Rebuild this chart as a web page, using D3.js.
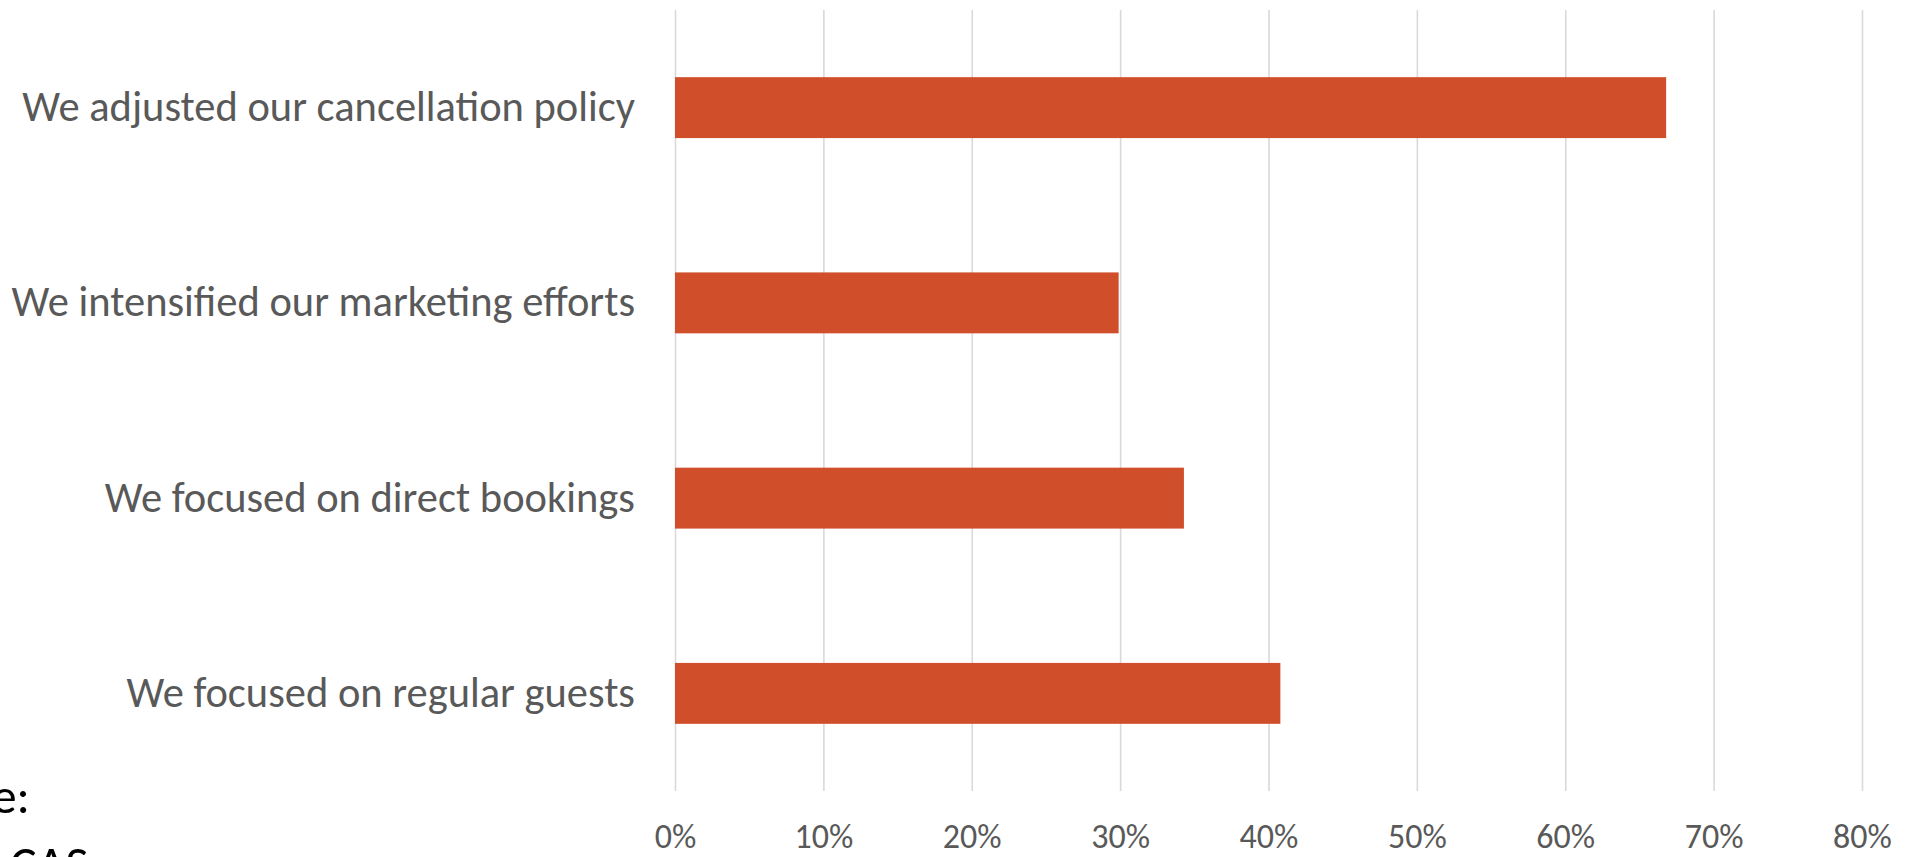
<!DOCTYPE html>
<html>
<head>
<meta charset="utf-8">
<script src="https://cdn.jsdelivr.net/npm/d3@7"></script>
<style>
  html, body { margin: 0; padding: 0; background: #fff; overflow: hidden; }
  svg { display: block; }
  .lbl { font-family: Carlito, Calibri, Lato, "Open Sans", sans-serif; fill: #595959; }
</style>
</head>
<body>
<div id="chart"></div>
<script>
(function () {
  'use strict';

  var categories = [
    'We adjusted our cancellation policy',
    'We intensified our marketing efforts',
    'We focused on direct bookings',
    'We focused on regular guests'
  ];
  var values = [0.668, 0.299, 0.343, 0.408];
  var tickValues = [0, 0.1, 0.2, 0.3, 0.4, 0.5, 0.6, 0.7, 0.8];
  var sourceLines = ['Source:', 'CAS'];

  var W = 1907, H = 857;
  var plot = { left: 675, right: 1862, top: 10, bottom: 791 };

  var svg = d3.select('#chart').append('svg')
    .attr('width', W).attr('height', H);

  var x = d3.scaleLinear().domain([0, 0.8]).range([plot.left, plot.right]);
  var y = d3.scaleBand().domain(categories)
    .range([plot.top, plot.bottom])
    .paddingInner(0.688).paddingOuter(0.344);

  /* gridlines */
  var grid = svg.append('g')
    .attr('transform', 'translate(0,' + plot.bottom + ')')
    .call(d3.axisBottom(x).tickValues(tickValues)
      .tickSize(-(plot.bottom - plot.top)).tickFormat(''));
  grid.select('.domain').remove();
  grid.selectAll('line').attr('stroke', '#d9d9d9').attr('stroke-width', 1.6);

  /* bars */
  svg.selectAll('.bar')
    .data(values)
    .join('rect')
    .attr('class', 'bar')
    .attr('x', x(0))
    .attr('y', function (d, i) { return y(categories[i]); })
    .attr('width', function (d) { return x(d) - x(0); })
    .attr('height', y.bandwidth())
    .attr('fill', '#d04f2a');

  /* x tick labels */
  var xa = svg.append('g')
    .attr('transform', 'translate(0,' + plot.bottom + ')')
    .call(d3.axisBottom(x).tickValues(tickValues)
      .tickSize(0).tickFormat(d3.format('.0%')));
  xa.select('.domain').remove();
  xa.selectAll('text')
    .attr('class', 'lbl')
    .attr('y', 57).attr('dy', null)
    .style('font-size', '34px');

  /* category labels */
  var ya = svg.append('g')
    .attr('transform', 'translate(' + plot.left + ',0)')
    .call(d3.axisLeft(y).tickSize(0).tickPadding(40));
  ya.select('.domain').remove();
  ya.selectAll('text').attr('class', 'lbl').style('font-size', '42.5px');

  /* clipped source note, bottom-left */
  svg.append('text')
    .attr('x', 30).attr('y', 813)
    .attr('text-anchor', 'end')
    .style('font-family', 'Carlito, Calibri, Lato, sans-serif')
    .style('font-size', '50px').attr('fill', '#000')
    .text(sourceLines[0]);
  svg.append('text')
    .attr('x', 10).attr('y', 881)
    .style('font-family', 'Carlito, Calibri, Lato, sans-serif')
    .style('font-size', '50px').attr('fill', '#000')
    .text(sourceLines[1]);
})();
</script>
</body>
</html>
